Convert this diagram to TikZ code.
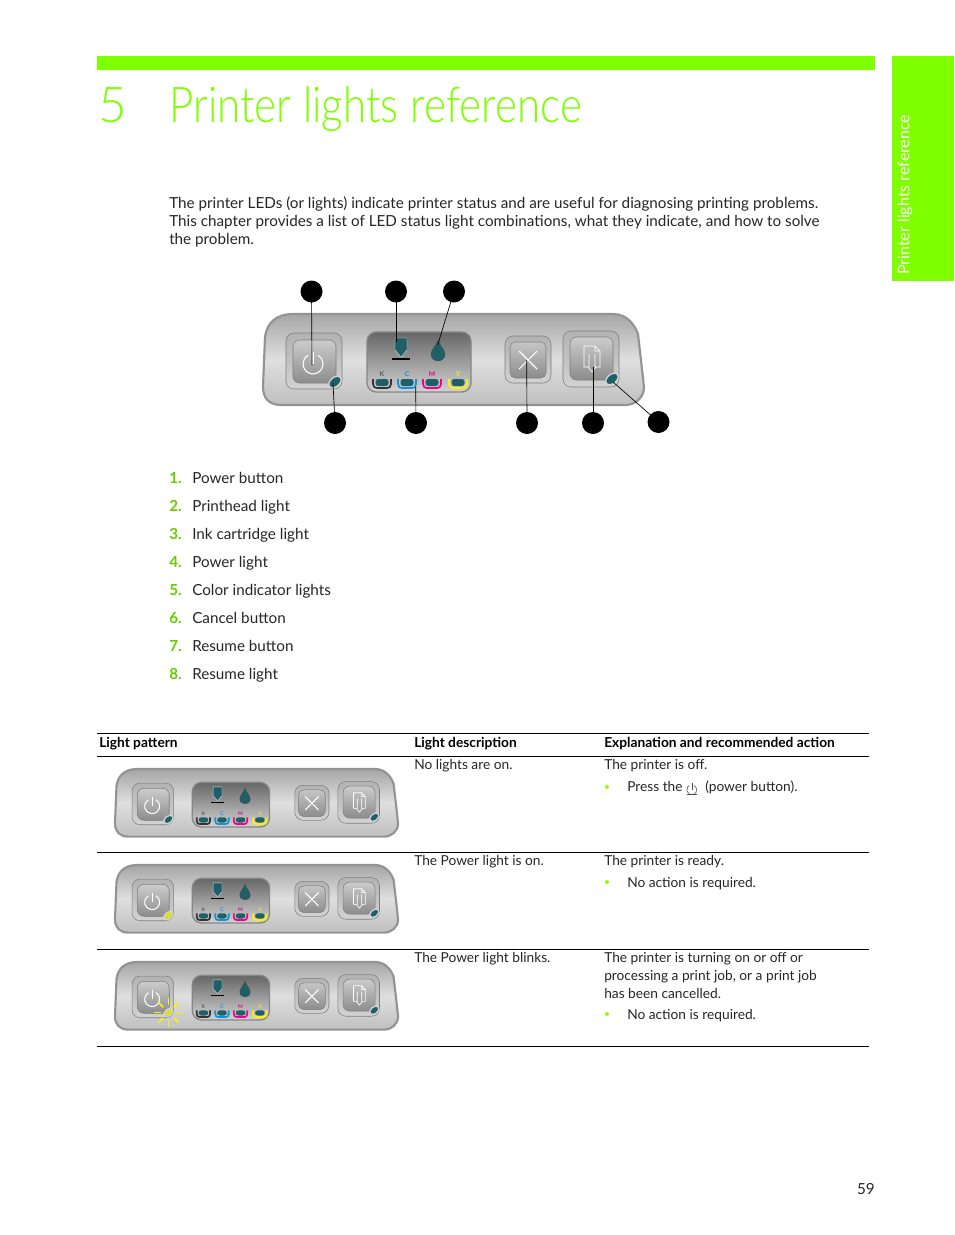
\documentclass[tikz,border=0pt]{standalone}
\usepackage{fontspec}
\setmainfont{Lato}
\newfontfamily\lightfont{Lato Light}
\definecolor{hpgreen}{HTML}{80FF00}
\definecolor{teal}{HTML}{1F6068}
\definecolor{ledon}{HTML}{D6E021}
\definecolor{edge}{HTML}{7E7E7E}
\newcommand{\bodysize}{\fontsize{11.43}{13.5}\selectfont}
\newcommand{\cellsize}{\fontsize{10.3}{13.5}\selectfont}
\tikzset{
  body/.style={anchor=north west,inner sep=0pt,align=left,text=black!85,font=\bodysize},
  cell/.style={anchor=north west,inner sep=0pt,align=left,text=black!85,font=\cellsize},
  head/.style={anchor=north west,inner sep=0pt,font=\fontsize{10.3}{12.5}\selectfont\bfseries},
  listnum/.style={anchor=north west,inner sep=0pt,text=hpgreen!80!black,font=\bodysize\bfseries},
  rowrule/.style={line width=0.6pt,black},
  callout/.style={circle,fill=black,inner sep=0pt,minimum size=16.5pt},
  leader/.style={line width=0.5pt,black},
  icon/.style={white,line width=0.8pt},
  hpbullet/.style={circle,fill=hpgreen!85!yellow,inner sep=0pt,minimum size=3pt},
}
% x, y (top left), scale, power LED colour, extra drawing
\newcommand{\hppanel}[5]{%
\begin{scope}[shift={(#1,#2)},scale=#3]
  \path[draw=gray!85,line width=1.6pt,top color=gray!70,bottom color=gray!50,middle color=gray!25]
    (2,23) .. controls (4,8) and (14,0) .. (30,0) -- (350,0)
    .. controls (365,0) and (372,12) .. (375,20) -- (381,73)
    .. controls (381,84) and (372,91) .. (362,91) -- (18,91)
    .. controls (6,91) and (0,84) .. (0,73) -- cycle;
  % power button
  \path[draw=edge,line width=0.4pt,rounded corners=6pt,top color=gray!60,bottom color=gray!35] (23,19) rectangle (79,75);
  \path[draw=edge,line width=0.4pt,rounded corners=5pt,top color=gray!40,bottom color=gray!90] (30,26) rectangle (73,69);
  \draw[icon] (55,41.3) arc[start angle=-60,end angle=240,radius=10];
  \draw[icon] (50,38) -- (50,50);
  % light panel
  \path[draw=gray!95,line width=1pt,rounded corners=7pt,top color=gray!120,bottom color=gray!35] (104,18) rectangle (208,78);
  % printhead
  \draw[white!70!gray,fill=teal,line width=0.3pt] (132,24) -- (144,24) -- (144,36) -- (138,43) -- (132,36) -- cycle;
  \draw[black,line width=0.8pt] (129,45) -- (147,45);
  % ink drop
  \draw[black!70,fill=teal,line width=0.3pt] (175,26) .. controls (177,32) and (182,36) .. (182,40)
    .. controls (182,45) and (178,47) .. (175,47) .. controls (172,47) and (168,45) .. (168,40)
    .. controls (168,36) and (173,32) .. (175,26) -- cycle;
  % colour lights
  \foreach \cx/\cc/\lc/\cl in {119/black!80/black!65/K,144/cyan!80!blue/cyan!80!blue/C,169/magenta/magenta/M,195/yellow/yellow/Y}{
    \draw[\cc,line width=1.3pt] (\cx-9,65) -- (\cx-9,70) .. controls (\cx-9,73) and (\cx-7,74) .. (\cx-5,74)
      -- (\cx+5,74) .. controls (\cx+7,74) and (\cx+9,73) .. (\cx+9,70) -- (\cx+9,65);
    \fill[teal,rounded corners=2pt] (\cx-6.5,65) rectangle (\cx+6.5,72);
    \node[inner sep=0pt,transform shape,text=\lc,font=\fontsize{5}{6}\selectfont\bfseries] at (\cx,60.5) {\cl};
  }
  % cancel button
  \path[draw=edge,line width=0.4pt,rounded corners=6pt,top color=gray!60,bottom color=gray!35] (242,22) rectangle (288,69);
  \path[draw=edge,line width=0.4pt,rounded corners=4pt,top color=gray!45,bottom color=gray!90] (247,28) rectangle (283,64);
  \draw[icon] (256,37) -- (274,55) (274,37) -- (256,55);
  % resume button
  \path[draw=edge,line width=0.4pt,rounded corners=6pt,top color=gray!60,bottom color=gray!35] (300,17) rectangle (356,73);
  \path[draw=edge,line width=0.4pt,rounded corners=5pt,top color=gray!40,bottom color=gray!90] (307,23) rectangle (350,66);
  \draw[white,line width=0.5pt] (321,32) -- (332,32) -- (337,37) -- (337,53) -- (333,53)
    (325,53) -- (321,53) -- (321,32) (332,32) -- (332,37) -- (337,37)
    (326,40) -- (326,53) (332,40) -- (332,53) (325,53) -- (329,58) -- (333,53);
  % lights
  \draw[gray!35,fill=#4,line width=1pt,rotate around={40:(72,68)}] (72,68) ellipse[x radius=7,y radius=4.6];
  \draw[gray!35,fill=teal,line width=1pt,rotate around={40:(349,65)}] (349,65) ellipse[x radius=7,y radius=4.6];
  #5
\end{scope}}
\newcommand{\blink}{%
  \foreach \ang in {0,45,...,315}{\draw[yellow,line width=1.2pt] (72,68) ++(\ang:10) -- ++(\ang:9);}}
\begin{document}
\begin{tikzpicture}[x=0.75pt,y=-0.75pt]
\useasboundingbox (0,0) rectangle (954,1235);
\fill[white] (0,0) rectangle (954,1235);
% header
\fill[hpgreen] (97,56) rectangle (875,70);
\fill[hpgreen] (892,56) rectangle (954,281);
\node[anchor=west,inner sep=0pt,rotate=90,text=white,font=\fontsize{12}{14}\selectfont] (tab) at (905,275) {Printer lights reference};
\node[anchor=base west,inner sep=0pt,text=hpgreen,font=\lightfont\fontsize{37}{40}\selectfont] (chapnum) at (98,122) {5};
\node[anchor=base west,inner sep=0pt,text=hpgreen,font=\lightfont\fontsize{37}{40}\selectfont] (title) at (169,122) {\scalebox{0.855}[1]{Printer lights reference}};
\node[body] (intro) at (169,196) {The printer LEDs (or lights) indicate printer status and are useful for diagnosing printing problems.\\This chapter provides a list of LED status light combinations, what they indicate, and how to solve\\the problem.};
% main panel
\hppanel{263}{314}{1}{teal}{}
\coordinate (t1) at (312,365);
\coordinate (t2) at (396,342);
\coordinate (t3) at (437.7,345);
\coordinate (t4) at (333,383);
\coordinate (t5) at (415.7,387);
\coordinate (t6) at (526.7,360);
\coordinate (t7) at (593,367);
\coordinate (t8) at (613,382);
\node[callout] (c1) at (311.5,291.5) {};
\node[callout] (c2) at (396,291.5) {};
\node[callout] (c3) at (454,291.5) {};
\node[callout] (c4) at (335,423) {};
\node[callout] (c5) at (416,423) {};
\node[callout] (c6) at (527,423) {};
\node[callout] (c7) at (593,423) {};
\node[callout] (c8) at (658.5,422) {};
\draw[leader] (c1.center) -- (t1);
\draw[leader] (c2.center) -- (t2);
\draw[leader] (c3.center) -- (t3);
\draw[leader] (c4.center) -- (t4);
\draw[leader] (c5.center) -- (t5);
\draw[leader] (c6.center) -- (t6);
\draw[leader] (c7.center) -- (t7);
\draw[leader] (c8.center) -- (t8);
% list
\foreach \n/\yy/\txt in {1/472/Power button,2/500/Printhead light,3/528/Ink cartridge light,4/556/Power light,5/584/Color indicator lights,6/612/Cancel button,7/640/Resume button,8/668/Resume light}{
  \node[listnum] (num\n) at (169,\yy) {\n.};
  \node[body] (item\n) at (192,\yy) {\txt};
}
% table
\draw[rowrule] (97,733) -- (869,733);
\draw[rowrule] (97,756.5) -- (869,756.5);
\draw[rowrule] (97,852.5) -- (869,852.5);
\draw[rowrule] (97,949) -- (869,949);
\draw[rowrule] (97,1046.5) -- (869,1046.5);
\node[head] (h1) at (99,737) {Light pattern};
\node[head] (h2) at (414,737) {Light description};
\node[head] (h3) at (604,737) {Explanation and recommended action};
\hppanel{115}{769}{0.743}{teal}{}
\hppanel{115}{865}{0.743}{ledon}{}
\hppanel{115}{962}{0.743}{ledon}{\blink}
\node[cell] (d1) at (414,759) {No lights are on.};
\node[cell] (e1) at (604,759) {The printer is off.};
\node[hpbullet] (b1) at (607,787) {};
\node[cell] (a1) at (627,781) {Press the};
\node[cell] (a1b) at (705,781) {(power button).};
\draw[black!70,line width=0.4pt] (694.3,785.5) arc[start angle=-60,end angle=240,radius=5];
\draw[black!70,line width=0.4pt] (691.9,783) -- (691.9,790);
\draw[black!70,line width=0.4pt] (687,794) -- (697,794);
\node[cell] (d2) at (414,855) {The Power light is on.};
\node[cell] (e2) at (604,855) {The printer is ready.};
\node[hpbullet] (b2) at (607,882) {};
\node[cell] (a2) at (627,877) {No action is required.};
\node[cell] (d3) at (414,952) {The Power light blinks.};
\node[cell] (e3) at (604,952) {The printer is turning on or off or\\processing a print job, or a print job\\has been cancelled.};
\node[hpbullet] (b3) at (607,1014) {};
\node[cell] (a3) at (627,1009) {No action is required.};
\node[anchor=base east,inner sep=0pt,text=black!85,font=\bodysize] (page) at (875,1194) {59};
\end{tikzpicture}
\end{document}
